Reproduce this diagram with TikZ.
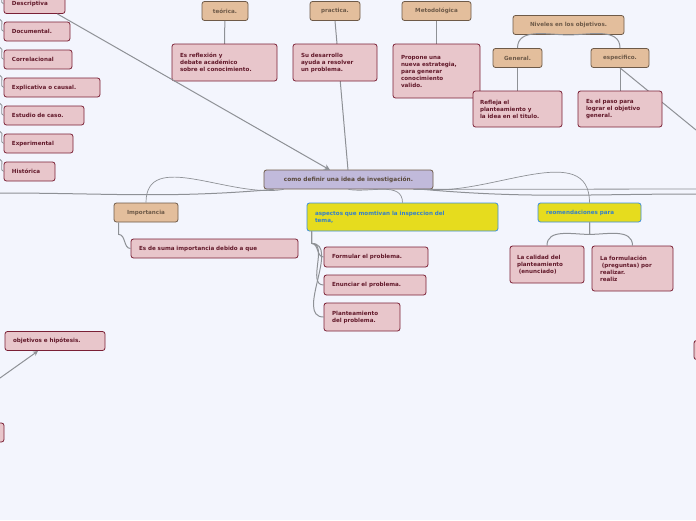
\documentclass[tikz,border=0pt]{standalone}
\usepackage{fontspec}
\setmainfont{DejaVu Sans}
\usetikzlibrary{calc,arrows.meta}
\definecolor{bgc}{HTML}{F3F5FD}
\definecolor{pinkf}{HTML}{E8C6CB}
\definecolor{pinkd}{HTML}{7A1F35}
\definecolor{tanf}{HTML}{E3BE9C}
\definecolor{tand}{HTML}{6E5A48}
\definecolor{lavf}{HTML}{C1BADB}
\definecolor{yelf}{HTML}{E6DC1E}
\definecolor{blued}{HTML}{3A8EE0}
\definecolor{linec}{HTML}{8E9196}

\begin{document}
\begin{tikzpicture}[x=1pt,y=-1pt,
    sub/.style={draw=pinkd,fill=pinkf,text=pinkd!80!black,rounded corners=2.5,line width=.8,font=\fontsize{5.6}{7}\selectfont\bfseries,align=left,inner sep=0pt},
    top/.style={draw=tand,fill=tanf,text=tand,rounded corners=2.5,line width=.8,font=\fontsize{5.6}{7}\selectfont\bfseries,inner sep=0pt,minimum height=19},
    main/.style={draw=tand,fill=lavf,text=tand!80!black,rounded corners=2.5,line width=.8,font=\fontsize{5.8}{7}\selectfont\bfseries,inner sep=0pt,minimum height=19},
    yel/.style={draw=blued,fill=yelf,text=blued!90!black,rounded corners=2.5,line width=.8,font=\fontsize{5.6}{7}\selectfont\bfseries,align=left,inner sep=0pt},
    link/.style={draw=linec,line width=1}]

  %%%% Background %%%%
  \fill[bgc] (0,0) rectangle (696,520);
  \useasboundingbox (0,0) rectangle (696,520);

  %% Central idea
  \node[main,minimum width=169] (centro) at (348.5,179.5) {como definir una idea de investigación.};

  %% Types on the left
  \foreach \nm/\cx/\cy/\w/\t in {desc/34.5/4/61/Descriptiva,docu/37/31.5/66/Documental.,corr/38/59.5/68/Correlacional,expl/52/87.5/96/Explicativa o causal.,estu/44/115.5/80/Estudio de caso.,expe/38.5/143.5/69/Experimental,hist/29.5/171.5/51/Histórica}{
    \pgfmathsetmacro\tw{\w-16}
    \node[sub,minimum width=\w,minimum height=19,text width=\tw pt] (\nm) at (\cx,\cy) {\t};
    \draw[link,line width=.8] (0,\cy-12) to[out=0,in=180] (\nm.west);
  }

  %% Upper branches
  \node[top,minimum width=46] (teor) at (225,11) {teórica.};
  \node[top,minimum width=50] (prac) at (335,11) {practica.};
  \node[top,minimum width=69] (meto) at (436.5,11) {Metodológica};
  \node[top,minimum width=111] (nive) at (568.5,25) {Niveles en los objetivos.};
  \node[top,minimum width=49] (gene) at (517.5,58) {General.};
  \node[top,minimum width=58] (espe) at (620,58) {especifico.};

  \draw[link] (prac.south) -- (348,170);
  \draw[link] (teor) -- (224.5,44);
  \draw[link] (meto) -- (436.5,44);
  \draw[link] (gene) -- (517.5,91);
  \draw[link] (espe) -- (620,91);
  \draw[link] (espe.south) -- (696,130);
  \draw[link] (nive.south) to[out=180,in=90] (gene.north);
  \draw[link] (nive.south) to[out=0,in=90] (espe.north);

  \node[sub,minimum width=105,minimum height=37,text width=89pt] (refl) at (224.5,62.5) {Es reflexión y\\debate académico\\sobre el conocimiento.};
  \node[sub,minimum width=84,minimum height=37,text width=68pt] (desa) at (335,62.5) {Su desarrollo\\ayuda a resolver\\un problema.};
  \node[sub,minimum width=87,minimum height=54,text width=71pt] (prop) at (436.5,71) {Propone una\\nueva estrategia,\\para generar\\conocimiento\\valido.};
  \node[sub,minimum width=89,minimum height=36,text width=75pt] (rfle) at (517.5,109) {Refleja el\\planteamiento y\\la idea en el titulo.};
  \node[sub,minimum width=84,minimum height=36,text width=68pt] (paso) at (620,109) {Es el paso para\\lograr el objetivo\\general.};

  %% Arrow from Descriptiva
  \draw[link,-{Stealth[length=6,width=6]}] ($(desc.south east)+(-8,0)$) -- (330,170);

  %% Long lines from the centre
  \draw[link] ($(centro.south west)+(10,0)$) to[out=185,in=0] (0,193);
  \draw[link] ($(centro.south east)+(-10,0)$) to[out=355,in=180] (696,194);
  \draw[link,line width=.8] ($(centro.south east)+(-20,0)$) -- (696,189);

  %% Lower branches
  \node[top,minimum width=64] (impo) at (146,212.5) {Importancia};
  \node[sub,minimum width=167,minimum height=19,text width=151pt] (suma) at (214.5,248.5) {Es de suma importancia debido a que};
  \node[yel,minimum width=191,minimum height=28,text width=175pt] (aspe) at (402.5,217) {aspectos que momtivan la inspeccion del\\tema,};
  \node[yel,minimum width=103,minimum height=19,text width=87pt] (reco) at (589.5,212.5) {reomendaciones para};
  \node[sub,minimum width=104,minimum height=20,text width=88pt] (form) at (376,257) {Formular el problema.};
  \node[sub,minimum width=102,minimum height=20,text width=86pt] (enun) at (375,285) {Enunciar el problema.};
  \node[sub,minimum width=76,minimum height=28,text width=60pt] (plan) at (362,317) {Planteamiento\\del problema.};
  \node[sub,minimum width=74,minimum height=37,text width=60pt] (cali) at (547,264.5) {La calidad del\\planteamiento\\\ (enunciado)};
  \node[sub,minimum width=81,minimum height=45,text width=65pt] (fmul) at (632.5,268.5) {La formulación\\\ (preguntas) por\\realizar.\\realiz};

  \draw[link,line width=.7] ($(centro.south west)+(20,0)$) to[out=190,in=90] (impo.north);
  \draw[link,line width=.7] (centro.south) to[out=350,in=90] (aspe.north);
  \draw[link,line width=.7] ($(centro.south east)+(-5,0)$) to[out=355,in=90] (reco.north);
  \draw[link] ($(impo.south west)+(5,0)$) -- ++(0,12) to[out=0,in=180] (suma.west);
  \foreach \nd in {form,enun,plan}{
    \draw[link] ($(aspe.south west)+(5,0)$) -- ++(0,12) to[out=0,in=180] (\nd.west);
  }
  \draw[link] (reco.south) -- ++(0,12) to[out=180,in=90] (cali.north);
  \draw[link] (reco.south) -- ++(0,12) to[out=0,in=90] (fmul.north);

  %% Bottom left
  \node[sub,minimum width=100,minimum height=19,text width=84pt] (obje) at (55,341) {objetivos e hipótesis.};
  \coordinate (bajo) at (0,378);
  \draw[link,-{Stealth[length=5,width=5]}] (bajo) -- (38,351);
  \node[sub,minimum width=10,minimum height=19] (izq) at (-1,432.5) {};
  \node[sub,minimum width=10,minimum height=19] (der) at (699,350) {};
\end{tikzpicture}
\end{document}
